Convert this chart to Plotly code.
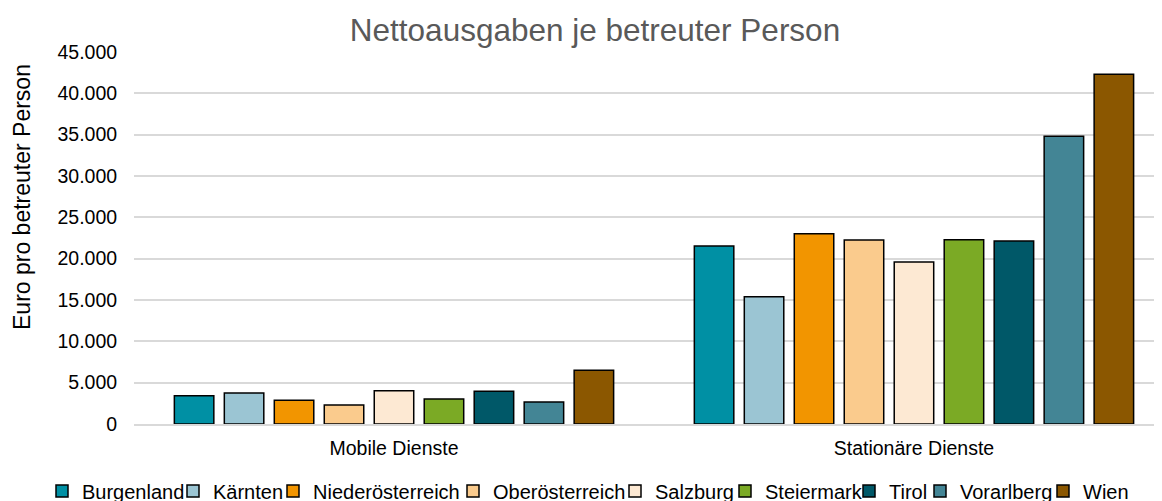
import plotly.graph_objects as go

categories = ["Mobile Dienste", "Stationäre Dienste"]
regions = ["Burgenland", "Kärnten", "Niederösterreich", "Oberösterreich", "Salzburg",
           "Steiermark", "Tirol", "Vorarlberg", "Wien"]
mobile = [3420, 3750, 2870, 2300, 4030, 3020, 3950, 2660, 6490]
stationaer = [21530, 15400, 23020, 22260, 19600, 22300, 22140, 34800, 42300]
colors = ["#0090A4", "#9BC5D3", "#F29500", "#FACB8D", "#FDE9D3",
          "#7BAA25", "#005868", "#438595", "#8B5700"]

# legend entry text start positions (px from left of page)
legend_text_x = [80, 211, 311, 491, 653, 763, 887, 958, 1081]

W, H = 1162, 501
OFF = 8  # page body margin
PL, PR, PT, PB = 134, 1162, 52, 424  # plot area on page

fig = go.Figure()
legends = {}
for i, r in enumerate(regions):
    lname = "legend" if i == 0 else f"legend{i + 1}"
    fig.add_trace(go.Bar(
        name=r, x=categories, y=[mobile[i], stationaer[i]],
        marker=dict(color=colors[i], line=dict(color="#000000", width=1.5)),
        legend=lname,
    ))
    legends[lname] = dict(
        orientation="h", xref="container", yref="container",
        x=(legend_text_x[i] - OFF - 38) / W, xanchor="left",
        y=1 - (491 - OFF) / H, yanchor="middle",
        font=dict(size=20), itemwidth=30, itemclick=False, itemdoubleclick=False,
        bgcolor="rgba(0,0,0,0)",
    )

font = "Liberation Sans, Arial, sans-serif"
fig.update_layout(
    width=W, height=H,
    barmode="group", bargap=0.135, bargroupgap=0.21,
    separators=",.",
    plot_bgcolor="white", paper_bgcolor="white",
    font=dict(family=font, size=20, color="#000000"),
    margin=dict(l=PL - OFF, r=W + OFF - PR, t=PT - OFF, b=H - (PB - OFF), autoexpand=False),
    title=dict(text="Nettoausgaben je betreuter Person", x=(595 - OFF) / W, xanchor="center",
               y=1 - (30 - OFF) / H, yanchor="middle", xref="container", yref="container",
               font=dict(size=31.5, color="#595959", family=font)),
    xaxis=dict(showgrid=False, showline=True, linecolor="#D9D9D9", linewidth=1.5,
               range=[-0.5, 1.477],
               tickfont=dict(size=19.5), ticks="outside", ticklen=6, tickcolor="rgba(0,0,0,0)"),
    yaxis=dict(range=[0, 45000], dtick=5000, tickformat=",d", showgrid=True,
               gridcolor="#D9D9D9", gridwidth=1.5, zeroline=False,
               tickfont=dict(size=19.5), ticks="outside", ticklen=12, tickcolor="rgba(0,0,0,0)"),
    annotations=[dict(text="Euro pro betreuter Person", textangle=-90,
                      xref="paper", yref="paper",
                      x=(22 - PL) / (PR - PL), y=(PB - 197) / (PB - PT),
                      xanchor="center", yanchor="middle", showarrow=False,
                      font=dict(size=23, color="#000000"))],
    showlegend=True,
    **legends,
)
fig.write_html("out.html")
